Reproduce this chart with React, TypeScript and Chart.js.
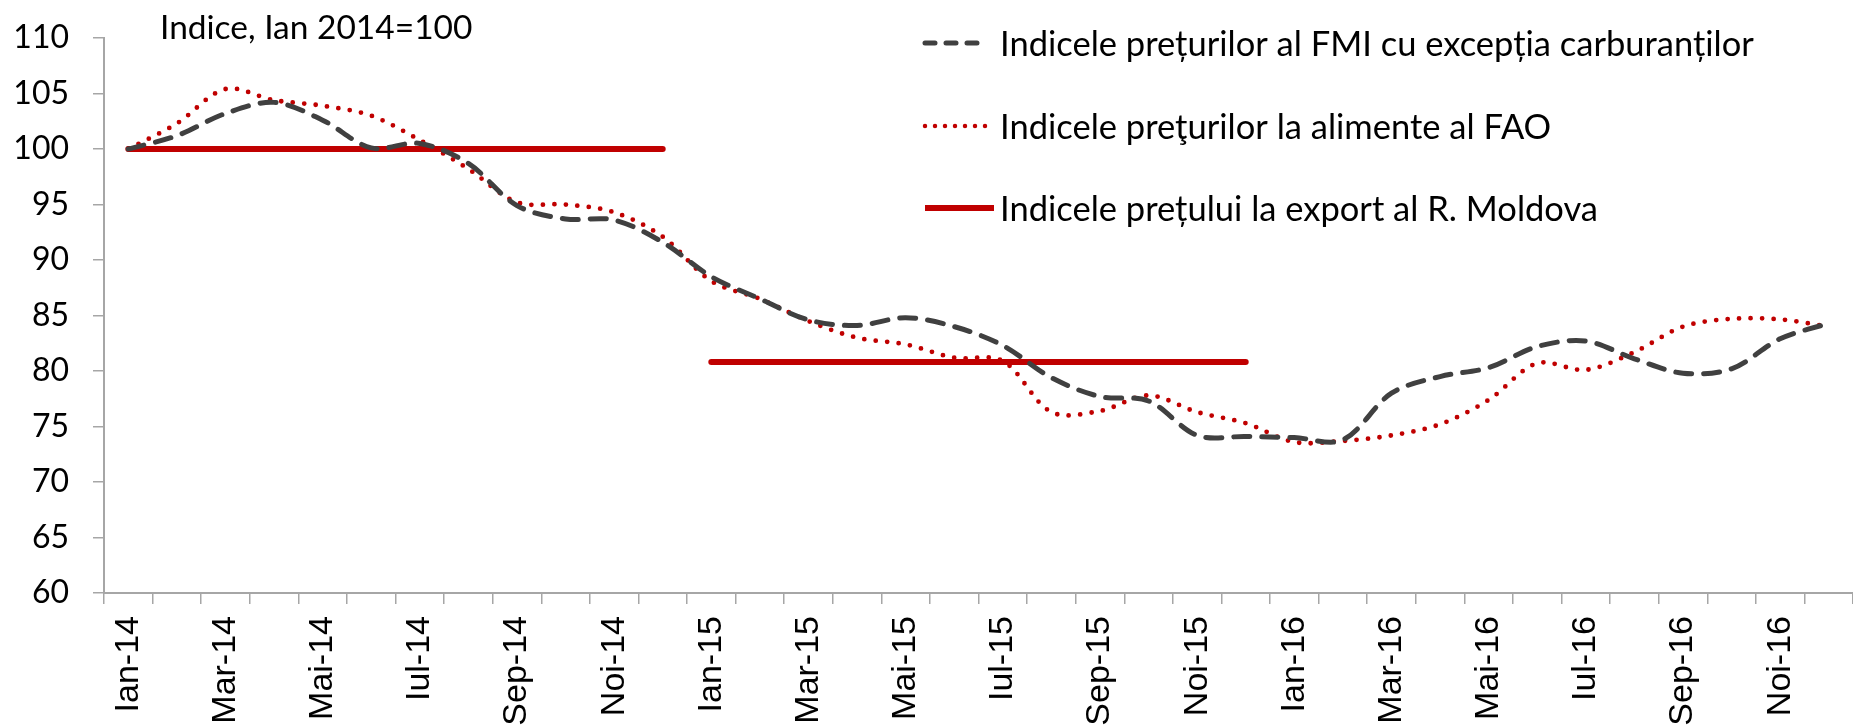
import { useEffect, useRef } from 'react';
import { Chart, registerables } from 'chart.js';

Chart.register(...registerables);

const categories = [
  'Ian-14', 'Feb-14', 'Mar-14', 'Apr-14', 'Mai-14', 'Iun-14', 'Iul-14', 'Aug-14', 'Sep-14', 'Oct-14', 'Noi-14', 'Dec-14',
  'Ian-15', 'Feb-15', 'Mar-15', 'Apr-15', 'Mai-15', 'Iun-15', 'Iul-15', 'Aug-15', 'Sep-15', 'Oct-15', 'Noi-15', 'Dec-15',
  'Ian-16', 'Feb-16', 'Mar-16', 'Apr-16', 'Mai-16', 'Iun-16', 'Iul-16', 'Aug-16', 'Sep-16', 'Oct-16', 'Noi-16', 'Dec-16',
];

const imfNonFuelIndex = [
  100, 101.2, 103.2, 104.2, 102.6, 100.1, 100.5, 98.7, 94.9, 93.7, 93.6, 91.6,
  88.5, 86.5, 84.6, 84.1, 84.8, 84.0, 82.3, 79.4, 77.7, 77.3, 74.2, 74.1,
  74.0, 73.8, 78.0, 79.5, 80.3, 82.2, 82.7, 81.1, 79.8, 80.2, 82.9, 84.3,
];

const faoFoodIndex = [
  100, 102.3, 105.4, 104.4, 103.9, 103.0, 100.8, 98.2, 95.2, 95.0, 94.3, 92.1,
  88.1, 86.5, 84.5, 83.0, 82.4, 81.2, 80.9, 76.3, 76.4, 77.8, 76.3, 75.3,
  73.6, 73.7, 74.2, 75.2, 77.4, 80.7, 80.1, 81.7, 84.0, 84.7, 84.65, 84.0,
];

const moldovaExportIndex = [
  100, 100, 100, 100, 100, 100, 100, 100, 100, 100, 100, 100,
  80.8, 80.8, 80.8, 80.8, 80.8, 80.8, 80.8, 80.8, 80.8, 80.8, 80.8, 80.8,
  null, null, null, null, null, null, null, null, null, null, null, null,
];

const seriesLabels = [
  'Indicele prețurilor al FMI cu excepția carburanților',
  'Indicele preţurilor la alimente al FAO',
  'Indicele prețului la export al R. Moldova',
];

const chartTitle = 'Indice, Ian 2014=100';
const yMin = 60;
const yMax = 110;
const yStep = 5;

const DARK = '#404040';
const RED = '#C00000';
const AXIS = '#A6A6A6';
const TEXT_FONT = 'Lato';

const overlayPlugin = {
  id: 'overlay',
  afterDraw(chart: any) {
    const ctx = chart.ctx as CanvasRenderingContext2D;
    ctx.save();
    ctx.fillStyle = '#000';
    ctx.textBaseline = 'alphabetic';
    ctx.textAlign = 'left';
    ctx.font = `33.5px ${TEXT_FONT}`;
    ctx.fillText(chartTitle, 160, 39);

    ctx.font = `34.5px ${TEXT_FONT}`;
    const rows = [
      { y: 43, color: DARK, width: 5, dash: [10, 11], cap: 'round', x2: 987 },
      { y: 126, color: RED, width: 4.5, dash: [0, 10], cap: 'round', x2: 987 },
      { y: 208, color: RED, width: 6, dash: [], cap: 'butt', x2: 994 },
    ];
    rows.forEach((r, i) => {
      ctx.beginPath();
      ctx.strokeStyle = r.color;
      ctx.lineWidth = r.width;
      ctx.lineCap = r.cap as CanvasLineCap;
      ctx.setLineDash(r.dash);
      ctx.moveTo(925, r.y);
      ctx.lineTo(r.x2, r.y);
      ctx.stroke();
      ctx.setLineDash([]);
      ctx.fillText(seriesLabels[i], 1000, r.y + 12.5);
    });
    ctx.restore();
  },
};

export default function App() {
  const ref = useRef<HTMLCanvasElement>(null);

  useEffect(() => {
    if (!ref.current) return;
    const chart = new Chart(ref.current, {
      type: 'line',
      data: {
        labels: categories,
        datasets: [
          {
            label: seriesLabels[0],
            data: imfNonFuelIndex,
            borderColor: DARK,
            borderWidth: 5,
            borderDash: [16, 12],
            borderCapStyle: 'round',
            pointRadius: 0,
            tension: 0.33,
            fill: false,
          },
          {
            label: seriesLabels[1],
            data: faoFoodIndex,
            borderColor: RED,
            borderWidth: 4.8,
            borderDash: [0, 11.5],
            borderCapStyle: 'round',
            pointRadius: 0,
            tension: 0.33,
            fill: false,
          },
          {
            label: seriesLabels[2],
            data: moldovaExportIndex,
            borderColor: RED,
            borderWidth: 6,
            borderCapStyle: 'round',
            pointRadius: 0,
            tension: 0,
            fill: false,
            spanGaps: false,
            segment: {
              borderColor: (c: any) => (c.p0DataIndex === 11 ? 'rgba(0,0,0,0)' : RED),
            },
          },
        ],
      },
      options: {
        animation: false,
        responsive: false,
        devicePixelRatio: 1,
        layout: { padding: { top: 38, left: 0, right: 0, bottom: 0 } },
        plugins: {
          legend: { display: false },
          title: { display: false },
          tooltip: { enabled: false },
        },
        scales: {
          x: {
            type: 'category',
            offset: true,
            grid: {
              offset: true,
              drawOnChartArea: false,
              drawTicks: true,
              tickLength: 11,
              color: AXIS,
              lineWidth: 1.5,
            },
            border: { display: true, color: AXIS, width: 2 },
            ticks: {
              autoSkip: false,
              maxRotation: 90,
              minRotation: 90,
              padding: 12,
              color: '#000',
              font: { family: 'Liberation Sans', size: 34 },
              callback: (_v: any, i: number) => (i % 2 === 0 ? categories[i] : ''),
            },
            afterFit: (s: any) => {
              s.height = 135;
              s.paddingLeft = 0;
              s.paddingRight = 0;
            },
          },
          y: {
            min: yMin,
            max: yMax,
            grid: {
              drawOnChartArea: false,
              drawTicks: true,
              tickLength: 11,
              color: AXIS,
              lineWidth: 1.5,
            },
            border: { display: true, color: AXIS, width: 2 },
            ticks: {
              stepSize: yStep,
              padding: 24,
              color: '#000',
              font: { family: TEXT_FONT, size: 32 },
            },
            afterFit: (s: any) => {
              s.width = 104;
              s.paddingTop = 0;
              s.paddingBottom = 0;
            },
          },
        },
      },
      plugins: [overlayPlugin],
    });
    return () => chart.destroy();
  }, []);

  return (
    <div style={{ position: 'fixed', left: 0, top: 0, width: 1853, height: 728, background: '#fff' }}>
      <canvas ref={ref} width={1853} height={728} style={{ display: 'block' }} />
    </div>
  );
}
